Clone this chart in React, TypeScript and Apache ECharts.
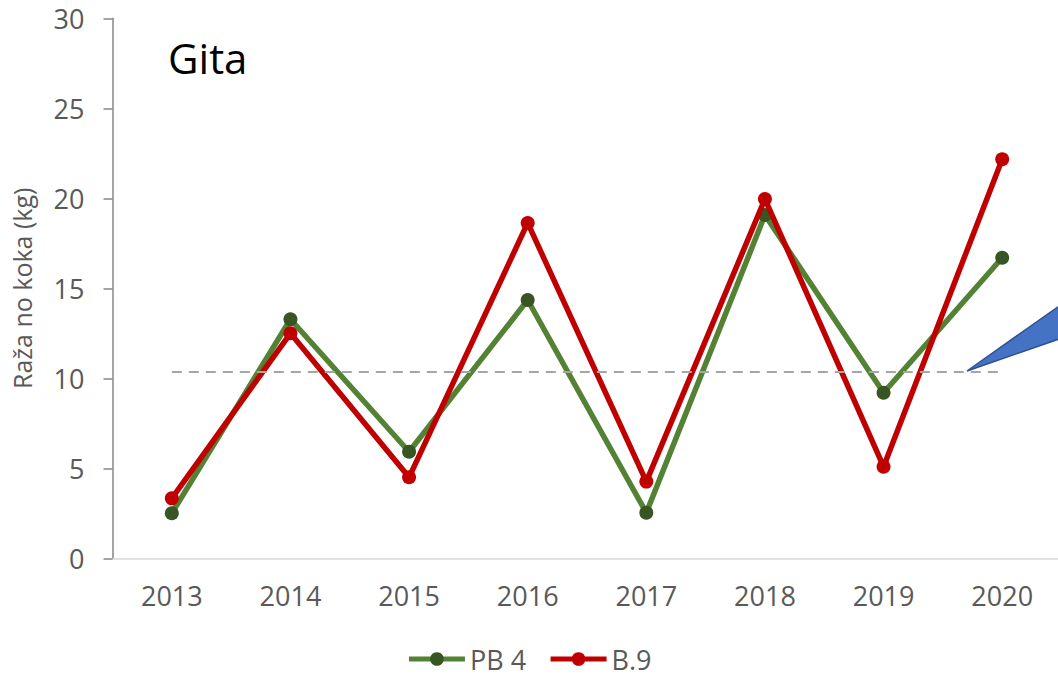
import React, { useEffect, useRef } from "react";
import * as echarts from "echarts";

const years = ["2013", "2014", "2015", "2016", "2017", "2018", "2019", "2020"];
const pb4 = [2.5, 13.28, 5.92, 14.35, 2.53, 19.07, 9.2, 16.7];
const b9 = [3.33, 12.5, 4.5, 18.63, 4.26, 19.96, 5.09, 22.17];
const averageLevel = 10.37;
const yTicks = { min: 0, max: 30, interval: 5 };

const FONT = "'Open Sans', sans-serif";

export default function App() {
  const ref = useRef<HTMLDivElement>(null);
  useEffect(() => {
    if (!ref.current) return;
    const chart = echarts.init(ref.current, undefined, { renderer: "svg" });
    chart.setOption({
      animation: false,
      backgroundColor: "#ffffff",
      textStyle: { fontFamily: FONT },
      grid: { left: 112.5, top: 18.3, width: 949, height: 540, containLabel: false, outerBoundsMode: "none" },
      title: {
        text: "Gita",
        left: 163,
        top: 31,
        textStyle: { fontFamily: FONT, fontSize: 42, fontWeight: "normal", color: "#000000" },
      },
      legend: {
        data: [
          { name: "PB 4", itemStyle: { color: "#375623" }, lineStyle: { color: "#548235", width: 5 } },
          { name: "B.9", itemStyle: { color: "#C00000" }, lineStyle: { color: "#C00000", width: 5 } },
        ],
        left: "center",
        top: 644,
        padding: 0,
        itemWidth: 56,
        itemHeight: 17,
        itemGap: 22,
        textStyle: { fontFamily: FONT, fontSize: 27, lineHeight: 30, color: "#595959" },
      },
      xAxis: {
        type: "category",
        data: years,
        boundaryGap: true,
        axisLine: { lineStyle: { color: "#D9D9D9", width: 1.5 } },
        axisTick: { show: false },
        axisLabel: { fontFamily: FONT, fontSize: 27, color: "#595959", margin: 24 },
        splitLine: { show: false },
      },
      yAxis: {
        type: "value",
        min: yTicks.min,
        max: yTicks.max,
        interval: yTicks.interval,
        name: "Raža no koka (kg)",
        nameLocation: "middle",
        nameGap: 78,
        nameTextStyle: { fontFamily: FONT, fontSize: 25, color: "#595959" },
        axisLine: { show: true, lineStyle: { color: "#868686", width: 1.5 } },
        axisTick: { show: true, length: 9, lineStyle: { color: "#868686", width: 1.5 } },
        axisLabel: { fontFamily: FONT, fontSize: 27, color: "#595959", margin: 28 },
        splitLine: { show: false },
      },
      series: [
        {
          name: "PB 4",
          type: "line",
          data: pb4,
          symbol: "circle",
          symbolSize: 14,
          lineStyle: { color: "#548235", width: 5.5 },
          itemStyle: { color: "#375623" },
          z: 3,
          markLine: {
            silent: true,
            symbol: "none",
            label: { show: false },
            lineStyle: { color: "#A6A6A6", width: 2, type: [10, 7] },
            data: [[{ coord: [years[0], averageLevel] }, { coord: [years[years.length - 1], averageLevel] }]],
          },
        },
        {
          name: "B.9",
          type: "line",
          data: b9,
          symbol: "circle",
          symbolSize: 14,
          lineStyle: { color: "#C00000", width: 5.5 },
          itemStyle: { color: "#C00000" },
          z: 4,
        },
      ],
      graphic: [
        {
          type: "polygon",
          shape: { points: [[967, 371], [1062, 304], [1062, 338]] },
          style: { fill: "#4472C4", stroke: "#2F528F", lineWidth: 1.5 },
          z: 10,
        },
      ],
    });
    return () => chart.dispose();
  }, []);
  return (
    <div
      ref={ref}
      style={{ position: "fixed", left: 0, top: 0, width: 1058, height: 677, background: "#fff" }}
    />
  );
}
